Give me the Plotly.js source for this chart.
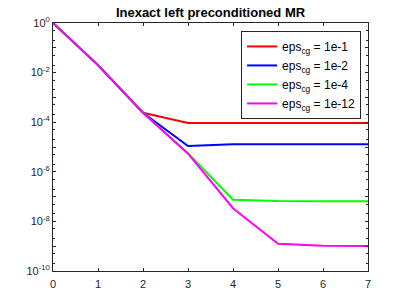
<!DOCTYPE html>
<html><head><meta charset="utf-8">
<script src="https://cdn.plot.ly/plotly-3.0.1.min.js"></script>
<style>html,body{margin:0;padding:0;background:#fff;}#plot{width:407px;height:305px;}</style>
</head><body><div id="plot"></div>
<script>
var iterations = [0, 1, 2, 3, 4, 5, 6, 7];
var seriesNames = ['eps<sub>cg</sub> = 1e-1', 'eps<sub>cg</sub> = 1e-2', 'eps<sub>cg</sub> = 1e-4', 'eps<sub>cg</sub> = 1e-12'];
var res_1e1  = [1, 2.0e-2, 2.4e-4, 9.3e-5, 9.3e-5, 9.3e-5, 9.3e-5, 9.3e-5];
var res_1e2  = [1, 2.0e-2, 2.4e-4, 1.1e-5, 1.28e-5, 1.3e-5, 1.3e-5, 1.3e-5];
var res_1e4  = [1, 2.0e-2, 2.4e-4, 5.6e-6, 7.5e-8, 6.6e-8, 6.5e-8, 6.5e-8];
var res_1e12 = [1, 2.0e-2, 2.4e-4, 5.4e-6, 3.4e-8, 1.26e-9, 1.05e-9, 1.02e-9];
var colors = ['#ff0000', '#0000ff', '#00ff00', '#ff00ff'];
var yTickVals = [1, 1e-1, 1e-2, 1e-3, 1e-4, 1e-5, 1e-6, 1e-7, 1e-8, 1e-9, 1e-10];
var yTickText = ['10<sup>0</sup>', '', '10<sup>-2</sup>', '', '10<sup>-4</sup>', '', '10<sup>-6</sup>', '', '10<sup>-8</sup>', '', '10<sup>-10</sup>'];
var xTickVals = [0, 1, 2, 3, 4, 5, 6, 7];

var allSeries = [res_1e1, res_1e2, res_1e4, res_1e12];
var traces = allSeries.map(function(s, i){
  return {x: iterations, y: s, type: 'scatter', mode: 'lines', name: seriesNames[i],
          line: {color: colors[i], width: 2}};
});
var axisColor = '#262626';
var layout = {
  width: 407, height: 305,
  margin: {l: 53, r: 39, t: 23, b: 34},
  paper_bgcolor: '#fff', plot_bgcolor: '#fff',
  font: {family: 'Liberation Sans, Arial, sans-serif', size: 11, color: axisColor},
  title: {text: '<b>Inexact left preconditioned MR</b>', font: {size: 13, color: '#000'},
          x: 0.5, xref: 'paper', y: 0.96, yanchor: 'middle'},
  showlegend: true,
  legend: {x: 0.978, y: 0.968, xanchor: 'right', yanchor: 'top', bgcolor: '#fff',
           bordercolor: axisColor, borderwidth: 1, font: {size: 12, color: '#000'},
           itemwidth: 30, tracegroupgap: 0},
  xaxis: {range: [0, 7], tickvals: xTickVals, ticks: 'inside', ticklen: 3, mirror: 'ticks',
          showline: true, linecolor: axisColor, linewidth: 1, showgrid: false, zeroline: false,
          tickcolor: axisColor, tickfont: {size: 11, color: axisColor}, ticklabelstandoff: 3},
  yaxis: {type: 'log', range: [-10, 0], tickvals: yTickVals, ticktext: yTickText,
          ticks: 'inside', ticklen: 3, mirror: 'ticks', showline: true, linecolor: axisColor,
          linewidth: 1, showgrid: false, zeroline: false, tickcolor: axisColor,
          tickfont: {size: 11, color: axisColor},
          minor: {ticks: 'inside', ticklen: 2, tickcolor: axisColor, showgrid: false}}
};
Plotly.newPlot('plot', traces, layout, {displayModeBar: false, staticPlot: true});
</script></body></html>
